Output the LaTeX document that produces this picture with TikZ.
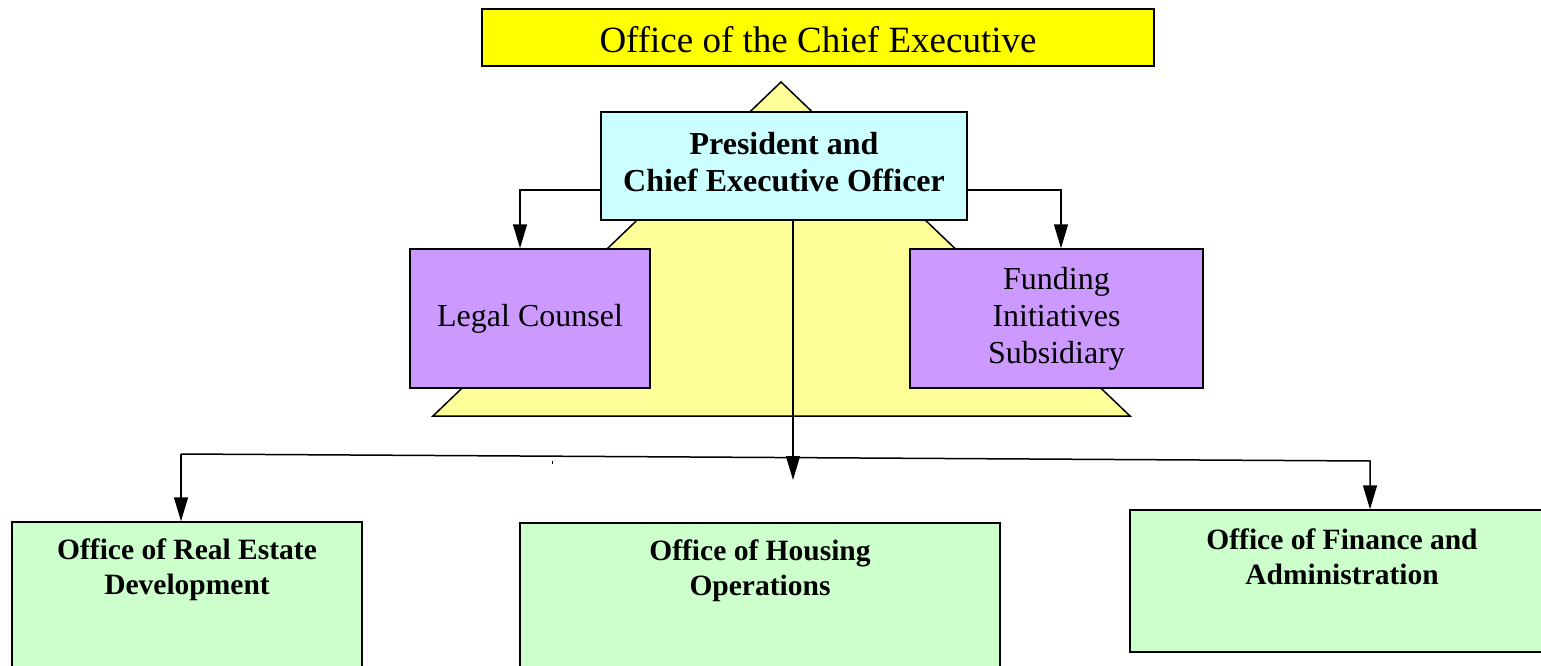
\documentclass[tikz,border=0pt]{standalone}
\usepackage{fontspec}
\setmainfont{Liberation Serif}
\usetikzlibrary{arrows.meta}
\definecolor{topyellow}{HTML}{FFFF00}
\definecolor{triyellow}{HTML}{FFFF99}
\definecolor{prescyan}{HTML}{CCFFFF}
\definecolor{staffpurple}{HTML}{CC99FF}
\definecolor{officegreen}{HTML}{CCFFCC}
\tikzset{
  box/.style={draw=black, line width=1.5pt, inner sep=0pt, align=center},
  arr/.style={draw=black, line width=1.5pt, -{Triangle[length=24pt,width=14pt]}},
  bigtxt/.style={font=\fontsize{37}{42}\selectfont, inner sep=0pt},
  midtxt/.style={font=\fontsize{32}{37}\selectfont},
  boldtxt/.style={font=\fontsize{32}{37}\selectfont\bfseries, align=center, inner sep=0pt},
  smalltxt/.style={font=\fontsize{29.5}{35}\selectfont\bfseries, align=center, inner sep=0pt},
}
\begin{document}
\begin{tikzpicture}[x=1pt,y=-1pt]
\useasboundingbox (0,0) rectangle (1541,666);
% triangle background
\draw[fill=triyellow, line width=1.5pt] (781,82) -- (1130,416) -- (433,416) -- cycle;
% top box
\node[box, fill=topyellow, minimum width=672pt, minimum height=57pt] (oce) at (818,37.5) {};
\node[bigtxt, anchor=base] (ocetxt) at (818,53) {Office of the Chief Executive};
% president
\node[box, fill=prescyan, minimum width=366pt, minimum height=108pt] (pres) at (784,166) {};
\node[boldtxt] (prestxt) at (784,162) {President and\\Chief Executive Officer};
% staff
\node[box, fill=staffpurple, minimum width=240pt, minimum height=139pt, midtxt] (legal) at (530,318.5) {Legal Counsel};
\node[box, fill=staffpurple, minimum width=293pt, minimum height=139pt, midtxt] (fund) at (1056.5,318.5) {Funding\\Initiatives\\Subsidiary};
% offices
\node[box, fill=officegreen, minimum width=350pt, minimum height=160pt] (re) at (187,602) {};
\node[box, fill=officegreen, minimum width=480pt, minimum height=160pt] (ho) at (760,603) {};
\node[box, fill=officegreen, minimum width=424pt, minimum height=142pt] (fin) at (1342,581) {};
\node[smalltxt] (retxt) at ([yshift=-48pt]re.north) {Office of Real Estate\\Development};
\node[smalltxt] (hotxt) at ([yshift=-48pt]ho.north) {Office of Housing\\Operations};
\node[smalltxt] (fintxt) at ([yshift=-48pt]fin.north) {Office of Finance and\\Administration};
% connectors
\draw[arr] ([yshift=-24pt]pres.west) -| ([xshift=-10pt]legal.north);
\draw[arr] ([yshift=-24pt]pres.east) -| ([xshift=4.5pt]fund.north);
\coordinate (ctip) at (793,480);
\draw[arr] ([xshift=9pt]pres.south) -- (ctip);
\coordinate (bl) at (181,454);
\coordinate (br) at (1370,461);
\draw[arr] (bl) -- (br) -- (br |- fin.north);
\draw[arr] (bl) -- (bl |- re.north);
% stray mark
\fill[black] (551.5,460.5) rectangle (553,463.5);
\end{tikzpicture}
\end{document}
